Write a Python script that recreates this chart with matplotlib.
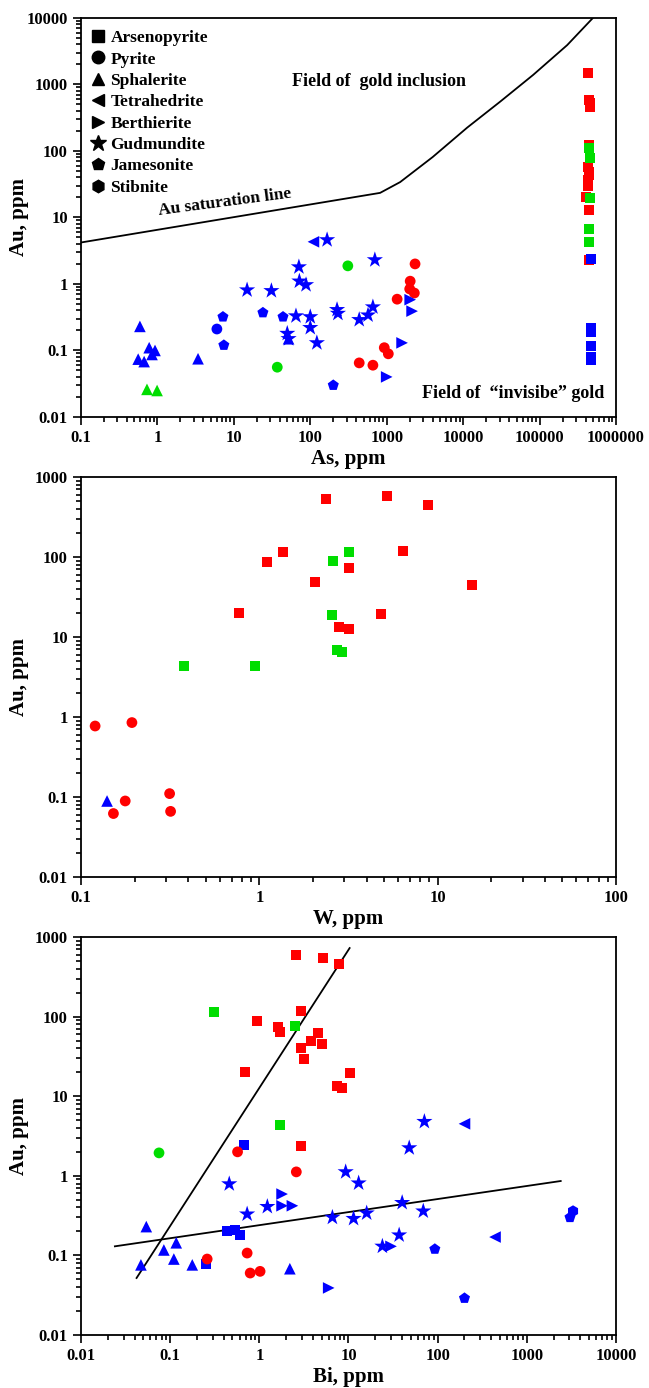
import matplotlib
matplotlib.use("Agg")
import numpy as np
import matplotlib.pyplot as plt
from matplotlib.ticker import LogLocator, FixedLocator, FuncFormatter, NullFormatter
from matplotlib.lines import Line2D

plt.rcParams['font.family'] = ['Liberation Serif', 'DejaVu Serif']
plt.rcParams['font.weight'] = 'bold'

RED = '#ff0000'
GREEN = '#00dd00'
BLUE = '#0000ff'

minerals = ['Arsenopyrite', 'Pyrite', 'Sphalerite', 'Tetrahedrite',
            'Berthierite', 'Gudmundite', 'Jamesonite', 'Stibnite']
markers = {'Arsenopyrite': 's', 'Pyrite': 'o', 'Sphalerite': '^', 'Tetrahedrite': '<',
           'Berthierite': '>', 'Gudmundite': '*', 'Jamesonite': 'p', 'Stibnite': 'h'}
msize = {'s': 52, 'o': 60, '^': 70, '<': 70, '>': 70, '*': 150, 'p': 70, 'h': 70}

# ---------- As vs Au ----------
as_apy_red_x = [432000, 445000, 459000, 459000, 440000, 432000, 440000, 445000, 432000, 432000, 400000, 440000, 445000]
as_apy_red_y = [1480, 585, 530, 460, 123, 57, 48, 44, 36, 30, 20, 13, 2.3]
as_apy_green_x = [445000, 459000, 459000, 445000, 445000]
as_apy_green_y = [110, 78, 19.6, 6.7, 4.3]
as_apy_blue_x = [473000, 473000, 473000, 473000, 473000, 473000]
as_apy_blue_y = [2.4, 0.22, 0.19, 0.115, 0.08, 0.072]
as_py_red_x = [2350, 2030, 2000, 2300, 1370, 930, 1050, 437, 660]
as_py_red_y = [2.0, 1.1, 0.84, 0.73, 0.59, 0.11, 0.089, 0.065, 0.06]
as_py_green_x = [310, 37]
as_py_green_y = [1.87, 0.056]
as_py_blue_x = [6.0]
as_py_blue_y = [0.21]
as_sph_blue_x = [0.59, 0.56, 0.67, 0.78, 0.93, 0.85, 3.4, 52]
as_sph_blue_y = [0.23, 0.074, 0.068, 0.11, 0.10, 0.087, 0.075, 0.15]
as_sph_green_x = [0.73, 0.99]
as_sph_green_y = [0.026, 0.025]
as_tet_x = [110]
as_tet_y = [4.3]
as_ber_x = [2030, 2150, 1590, 1000]
as_ber_y = [0.58, 0.39, 0.13, 0.04]
as_gud_x = [14.9, 31, 71, 72, 88, 65, 100, 100, 50, 52, 122, 166, 700, 224, 230, 437, 570, 660]
as_gud_y = [0.81, 0.79, 1.8, 1.1, 0.97, 0.33, 0.32, 0.22, 0.18, 0.15, 0.13, 4.6, 2.3, 0.41, 0.36, 0.29, 0.34, 0.45]
as_jam_x = [7.2, 7.4, 24, 44, 200]
as_jam_y = [0.32, 0.12, 0.37, 0.32, 0.03]
sat_x = [0.1, 820, 1500, 4000, 11300, 30500, 82500, 230000, 500000]
sat_y = [4.2, 23.4, 34, 81, 224, 550, 1390, 3900, 10000]

# ---------- W vs Au ----------
w_py_red_x = [0.12, 0.193, 0.152, 0.177, 0.314, 0.318]
w_py_red_y = [0.77, 0.85, 0.062, 0.089, 0.11, 0.066]
w_sph_blue_x = [0.14]
w_sph_blue_y = [0.089]
w_apy_green_x = [0.378, 0.95, 2.74, 2.89, 2.56, 2.6, 3.2]
w_apy_green_y = [4.3, 4.3, 6.9, 6.4, 19, 89, 115]
w_apy_red_x = [2.38, 5.2, 8.8, 1.36, 1.10, 2.06, 0.77, 3.2, 6.4, 15.5, 4.8, 2.8, 3.2]
w_apy_red_y = [530, 580, 447, 115, 87, 49, 20, 73, 119, 45, 19.5, 13.3, 12.6]

# ---------- Bi vs Au ----------
bi_apy_red_x = [2.6, 5.2, 7.9, 2.9, 0.95, 1.63, 1.7, 2.9, 3.8, 4.6, 5.0, 3.2, 0.69, 10.5, 7.5, 8.5, 2.9]
bi_apy_red_y = [595, 545, 458, 118, 88, 74, 64, 40, 49, 62, 45, 29.4, 20, 19.5, 13.4, 12.6, 2.4]
bi_apy_green_x = [0.31, 2.5, 1.7]
bi_apy_green_y = [114, 76, 4.3]
bi_apy_blue_x = [0.68, 0.43, 0.54, 0.6, 0.25]
bi_apy_blue_y = [2.45, 0.20, 0.21, 0.18, 0.077]
bi_py_green_x = [0.075]
bi_py_green_y = [1.94]
bi_py_red_x = [0.57, 2.6, 0.26, 0.73, 0.79, 1.02]
bi_py_red_y = [2.0, 1.12, 0.09, 0.107, 0.06, 0.063]
bi_sph_x = [0.054, 0.047, 0.085, 0.117, 0.11, 0.177, 2.2]
bi_sph_y = [0.23, 0.076, 0.117, 0.144, 0.09, 0.076, 0.068]
bi_gud_x = [0.46, 1.23, 0.73, 71, 48, 9.3, 13, 6.6, 11.4, 16, 40, 69, 37, 24]
bi_gud_y = [0.79, 0.41, 0.33, 4.8, 2.24, 1.12, 0.81, 0.30, 0.29, 0.34, 0.46, 0.36, 0.18, 0.13]
bi_ber_x = [1.8, 1.8, 2.35, 6.0, 30]
bi_ber_y = [0.59, 0.42, 0.42, 0.039, 0.13]
bi_tet_x = [200, 440]
bi_tet_y = [4.5, 0.17]
bi_jam_x = [93, 200, 3050]
bi_jam_y = [0.12, 0.029, 0.30]
bi_stb_x = [3300]
bi_stb_y = [0.36]
bi_fit1_x = [0.042, 10.3]
bi_fit1_y = [0.052, 727]
bi_fit2_x = [0.024, 2400]
bi_fit2_y = [0.13, 0.86]


def fmt(v, pos):
    s = f"{v:.10f}".rstrip('0').rstrip('.')
    return s


def decades(lo, hi):
    return [10.0 ** k for k in range(int(round(np.log10(lo))), int(round(np.log10(hi))) + 1)]


def style(ax, xlim, ylim, xlabel):
    ax.set_xscale('log')
    ax.set_yscale('log')
    ax.set_xlim(*xlim)
    ax.set_ylim(*ylim)
    for axis, lim in ((ax.xaxis, xlim), (ax.yaxis, ylim)):
        axis.set_major_locator(FixedLocator(decades(*lim)))
        axis.set_minor_locator(LogLocator(base=10, subs=range(2, 10), numticks=20))
        axis.set_major_formatter(FuncFormatter(fmt))
        axis.set_minor_formatter(NullFormatter())
    ax.tick_params(which='both', direction='out', top=False, right=False, width=1.2)
    ax.tick_params(which='major', length=6, labelsize=12)
    ax.tick_params(which='minor', length=3.5)
    for sp in ax.spines.values():
        sp.set_linewidth(1.3)
    ax.set_xlabel(xlabel, fontsize=15, fontweight='bold', labelpad=2)
    ax.set_ylabel('Au, ppm', fontsize=15, fontweight='bold')
    ax.yaxis.label.set_va('center')
    ax.yaxis.set_label_coords(-0.115, 0.5)


def pts(ax, x, y, mineral, color):
    m = markers[mineral]
    ax.scatter(x, y, marker=m, s=msize[m], c=color, edgecolors='none', zorder=3)


fig = plt.figure(figsize=(6.49, 13.88), dpi=100)
ax1 = fig.add_axes([0.1248, 0.6996, 0.8243, 0.2875])
ax2 = fig.add_axes([0.1248, 0.3682, 0.8243, 0.2882])
ax3 = fig.add_axes([0.1248, 0.0382, 0.8243, 0.2867])

# top
style(ax1, (0.1, 1e6), (0.01, 1e4), 'As, ppm')
ax1.plot(sat_x, sat_y, color='black', lw=1.3, zorder=2)
pts(ax1, as_apy_red_x, as_apy_red_y, 'Arsenopyrite', RED)
pts(ax1, as_apy_green_x, as_apy_green_y, 'Arsenopyrite', GREEN)
pts(ax1, as_apy_blue_x, as_apy_blue_y, 'Arsenopyrite', BLUE)
pts(ax1, as_py_red_x, as_py_red_y, 'Pyrite', RED)
pts(ax1, as_py_green_x, as_py_green_y, 'Pyrite', GREEN)
pts(ax1, as_py_blue_x, as_py_blue_y, 'Pyrite', BLUE)
pts(ax1, as_sph_blue_x, as_sph_blue_y, 'Sphalerite', BLUE)
pts(ax1, as_sph_green_x, as_sph_green_y, 'Sphalerite', GREEN)
pts(ax1, as_tet_x, as_tet_y, 'Tetrahedrite', BLUE)
pts(ax1, as_ber_x, as_ber_y, 'Berthierite', BLUE)
pts(ax1, as_gud_x, as_gud_y, 'Gudmundite', BLUE)
pts(ax1, as_jam_x, as_jam_y, 'Jamesonite', BLUE)

handles = [Line2D([], [], ls='none', marker=markers[m], color='black',
                  markersize=(12 if markers[m] == '*' else 9)) for m in minerals]
ax1.legend(handles, minerals, loc='upper left', bbox_to_anchor=(-0.01, 1.0), frameon=False,
           fontsize=12.5, handletextpad=0.1, labelspacing=0.3, borderaxespad=0.4,
           handlelength=1.2, borderpad=0.3)
ax1.text(0.394, 0.84, 'Field of  gold inclusion', transform=ax1.transAxes,
         fontsize=13, va='center', ha='left')
ax1.text(0.269, 0.537, 'Au saturation line', transform=ax1.transAxes,
         fontsize=12.5, va='center', ha='center', rotation=7.5)
ax1.text(0.978, 0.06, 'Field of  \u201cinvisibe\u201d gold', transform=ax1.transAxes,
         fontsize=13, va='center', ha='right')

# middle
style(ax2, (0.1, 100), (0.01, 1000), 'W, ppm')
pts(ax2, w_apy_red_x, w_apy_red_y, 'Arsenopyrite', RED)
pts(ax2, w_apy_green_x, w_apy_green_y, 'Arsenopyrite', GREEN)
pts(ax2, w_py_red_x, w_py_red_y, 'Pyrite', RED)
pts(ax2, w_sph_blue_x, w_sph_blue_y, 'Sphalerite', BLUE)

# bottom
style(ax3, (0.01, 10000), (0.01, 1000), 'Bi, ppm')
ax3.plot(bi_fit1_x, bi_fit1_y, color='black', lw=1.3, zorder=2)
ax3.plot(bi_fit2_x, bi_fit2_y, color='black', lw=1.3, zorder=2)
pts(ax3, bi_apy_red_x, bi_apy_red_y, 'Arsenopyrite', RED)
pts(ax3, bi_apy_green_x, bi_apy_green_y, 'Arsenopyrite', GREEN)
pts(ax3, bi_apy_blue_x, bi_apy_blue_y, 'Arsenopyrite', BLUE)
pts(ax3, bi_py_green_x, bi_py_green_y, 'Pyrite', GREEN)
pts(ax3, bi_py_red_x, bi_py_red_y, 'Pyrite', RED)
pts(ax3, bi_sph_x, bi_sph_y, 'Sphalerite', BLUE)
pts(ax3, bi_gud_x, bi_gud_y, 'Gudmundite', BLUE)
pts(ax3, bi_ber_x, bi_ber_y, 'Berthierite', BLUE)
pts(ax3, bi_tet_x, bi_tet_y, 'Tetrahedrite', BLUE)
pts(ax3, bi_jam_x, bi_jam_y, 'Jamesonite', BLUE)
pts(ax3, bi_stb_x, bi_stb_y, 'Stibnite', BLUE)

fig.savefig('out.png', dpi=100)
